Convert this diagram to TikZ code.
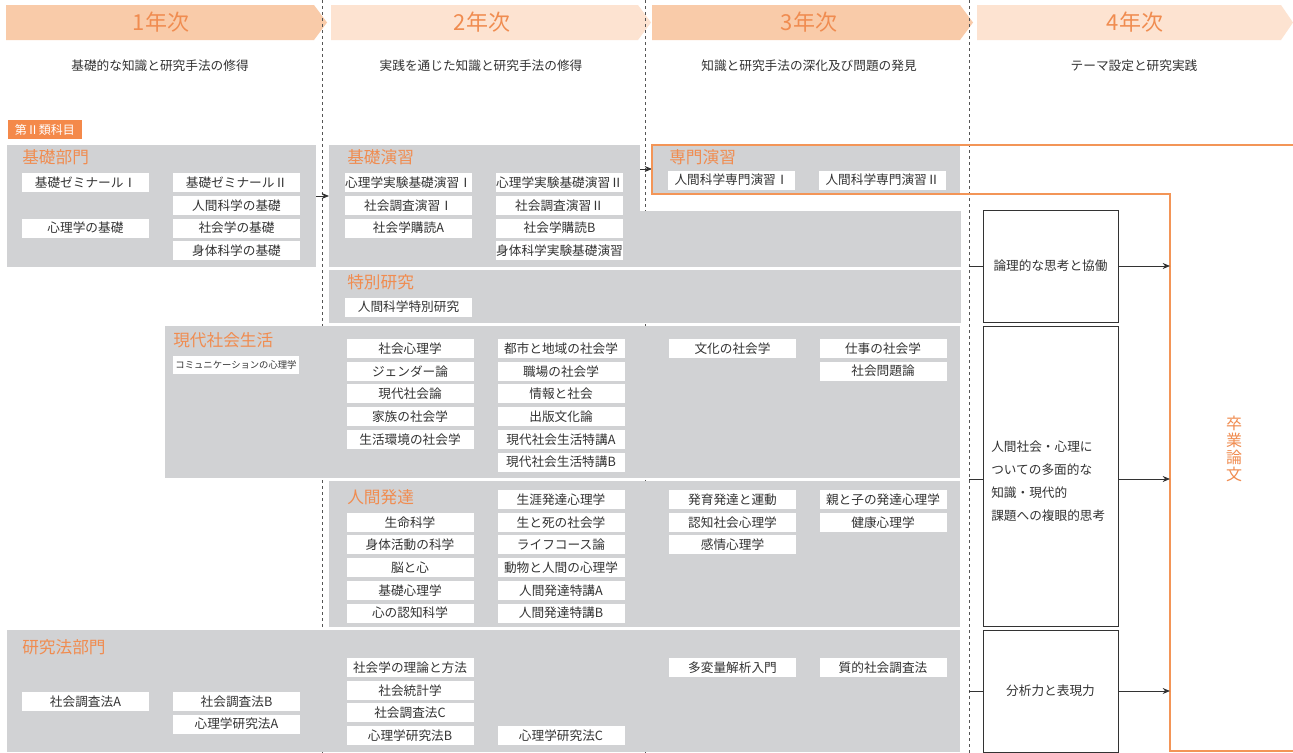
\documentclass[tikz,border=0pt]{standalone}
\usepackage{fontspec}
\setmainfont{Noto Sans CJK JP}
\usetikzlibrary{arrows.meta}
\definecolor{panelgray}{HTML}{D1D2D4}
\definecolor{hdark}{HTML}{F9CBA9}
\definecolor{hlight}{HTML}{FDE3D1}
\definecolor{orng}{HTML}{F08C50}
\definecolor{orline}{HTML}{F39557}
\definecolor{orfill}{HTML}{F4894A}
\definecolor{txt}{HTML}{333333}
\definecolor{dashc}{HTML}{555555}
\newcommand\cbf{\fontsize{9.5}{11}\selectfont}
\newcommand\pnl[5]{\node[panelbox, minimum width={(#4-#2)*0.75pt}, minimum height={(#5-#3)*0.75pt}] (#1) at ({(#2+#4)/2},{(#3+#5)/2}) {};}
\newcommand\chev[5]{\fill[#5] (#1,5) -- (#2,5) -- (#3,22.5) -- (#2,40) -- (#1,40) -- cycle;}
\tikzset{
 panelbox/.style={fill=panelgray, draw=none, inner sep=0pt, outer sep=0pt},
 cbox/.style={fill=white, inner sep=0pt, minimum width=95.25pt, minimum height=14.25pt, text=txt, font=\cbf},
 ttl/.style={anchor=west, inner sep=0pt, text=orng, font=\fontsize{12.5}{14}\selectfont},
 hdr/.style={text=orng, inner sep=0pt, font=\fontsize{16.5}{18}\selectfont},
 subt/.style={text=txt, inner sep=0pt, font=\cbf},
 rbox/.style={draw=txt, line width=0.65pt, fill=white, minimum width=101.25pt, inner sep=0pt, text=txt, font=\cbf},
 arr/.style={draw=txt, line width=0.75pt, -{Stealth[length=5.5pt,width=4.5pt]}},
 ln/.style={draw=txt, line width=0.75pt},
 dsh/.style={draw=dashc, line width=0.5pt, dash pattern=on 2.5pt off 2pt},
}
\begin{document}
\begin{tikzpicture}[x=0.75pt,y=-0.75pt]
\useasboundingbox (0,0) rectangle (1293,753);
\fill[white] (0,0) rectangle (1293,753);
% headers
\chev{6}{314}{327}{}{hdark}
\chev{331}{638}{651}{}{hlight}
\chev{652}{960}{973}{}{hdark}
\chev{977}{1281}{1293}{}{hlight}
\node[hdr] (h1) at (161,22) {1年次};
\node[hdr] (h2) at (482,22) {2年次};
\node[hdr] (h3) at (809,22) {3年次};
\node[hdr] (h4) at (1135,22) {4年次};
\node[subt] (s1) at (160,66) {基礎的な知識と研究手法の修得};
\node[subt] (s2) at (481,66) {実践を通じた知識と研究手法の修得};
\node[subt] (s3) at (809,66) {知識と研究手法の深化及び問題の発見};
\node[subt] (s4) at (1134,66) {テーマ設定と研究実践};
% dashed year separators
\draw[dsh] (322,0) -- (322,753);
\draw[dsh] (645,0) -- (645,753);
\draw[dsh] (969,0) -- (969,753);
% category label
\node[fill=orfill, text=white, inner sep=0pt, minimum width=55.5pt, minimum height=14.25pt, font=\fontsize{9}{10}\selectfont] (cat) at (45,129.5) {第Ⅱ類科目};
% panels
\pnl{pKiso}{7}{145}{316}{267}
\pnl{pEnshu}{329}{145}{640}{267}
\pnl{pEnshuX}{640}{211}{961}{267}
\pnl{pSenmon}{652}{145}{960}{194}
\pnl{pToku}{329}{270}{961}{323}
\pnl{pGendai}{165}{326}{960}{478}
\pnl{pHatta}{329}{481}{960}{627}
\pnl{pKenkyu}{7}{630}{960}{752}
% titles
\node[ttl] (tKiso) at (22,157) {基礎部門};
\node[ttl] (tEnshu) at (347,157) {基礎演習};
\node[ttl] (tSenmon) at (669,157) {専門演習};
\node[ttl] (tToku) at (347,282) {特別研究};
\node[ttl] (tGendai) at (173,340) {現代社会生活};
\node[ttl] (tHatta) at (347,497) {人間発達};
\node[ttl] (tKenkyu) at (22,647) {研究法部門};
% 基礎部門
\node[cbox] (k1) at (85.5,182.5) {基礎ゼミナールⅠ};
\node[cbox] (k2) at (236.5,182.5) {基礎ゼミナールⅡ};
\node[cbox] (k3) at (236.5,205.3) {人間科学の基礎};
\node[cbox] (k4) at (85.5,228) {心理学の基礎};
\node[cbox] (k5) at (236.5,228) {社会学の基礎};
\node[cbox] (k6) at (236.5,250.7) {身体科学の基礎};
% 基礎演習
\node[cbox] (e1) at (408.5,182.5) {心理学実験基礎演習Ⅰ};
\node[cbox] (e2) at (559.5,182.5) {心理学実験基礎演習Ⅱ};
\node[cbox] (e3) at (408.5,205.3) {社会調査演習Ⅰ};
\node[cbox] (e4) at (559.5,205.3) {社会調査演習Ⅱ};
\node[cbox] (e5) at (408.5,228) {社会学購読A};
\node[cbox] (e6) at (559.5,228) {社会学購読B};
\node[cbox] (e7) at (559.5,250.7) {身体科学実験基礎演習};
% 専門演習
\node[cbox] (m1) at (731.5,180) {人間科学専門演習Ⅰ};
\node[cbox] (m2) at (882.5,180) {人間科学専門演習Ⅱ};
% 特別研究
\node[cbox] (t1) at (408.5,307) {人間科学特別研究};
% 現代社会生活
\node[cbox, minimum width=94.5pt, minimum height=13.5pt, font=\fontsize{7}{8}\selectfont] (g0) at (236,365) {コミュニケーションの心理学};
\node[cbox] (g1) at (410,348.5) {社会心理学};
\node[cbox] (g2) at (410,371.2) {ジェンダー論};
\node[cbox] (g3) at (410,393.9) {現代社会論};
\node[cbox] (g4) at (410,416.6) {家族の社会学};
\node[cbox] (g5) at (410,439.3) {生活環境の社会学};
\node[cbox] (g6) at (561,348.5) {都市と地域の社会学};
\node[cbox] (g7) at (561,371.2) {職場の社会学};
\node[cbox] (g8) at (561,393.9) {情報と社会};
\node[cbox] (g9) at (561,416.6) {出版文化論};
\node[cbox] (g10) at (561,439.3) {現代社会生活特講A};
\node[cbox] (g11) at (561,462) {現代社会生活特講B};
\node[cbox] (g12) at (732.5,348.5) {文化の社会学};
\node[cbox] (g13) at (883,348.5) {仕事の社会学};
\node[cbox] (g14) at (883,371.2) {社会問題論};
% 人間発達
\node[cbox] (n1) at (410,522.2) {生命科学};
\node[cbox] (n2) at (410,544.9) {身体活動の科学};
\node[cbox] (n3) at (410,567.6) {脳と心};
\node[cbox] (n4) at (410,590.3) {基礎心理学};
\node[cbox] (n5) at (410,613) {心の認知科学};
\node[cbox] (n6) at (561,499.5) {生涯発達心理学};
\node[cbox] (n7) at (561,522.2) {生と死の社会学};
\node[cbox] (n8) at (561,544.9) {ライフコース論};
\node[cbox] (n9) at (561,567.6) {動物と人間の心理学};
\node[cbox] (n10) at (561,590.3) {人間発達特講A};
\node[cbox] (n11) at (561,613) {人間発達特講B};
\node[cbox] (n12) at (732.5,499.5) {発育発達と運動};
\node[cbox] (n13) at (732.5,522.2) {認知社会心理学};
\node[cbox] (n14) at (732.5,544.9) {感情心理学};
\node[cbox] (n15) at (883,499.5) {親と子の発達心理学};
\node[cbox] (n16) at (883,522.2) {健康心理学};
% 研究法部門
\node[cbox] (r1) at (85.5,701.5) {社会調査法A};
\node[cbox] (r2) at (236.5,701.5) {社会調査法B};
\node[cbox] (r3) at (236.5,724) {心理学研究法A};
\node[cbox] (r4) at (410,667.5) {社会学の理論と方法};
\node[cbox] (r5) at (410,690.2) {社会統計学};
\node[cbox] (r6) at (410,712.9) {社会調査法C};
\node[cbox] (r7) at (410,735.6) {心理学研究法B};
\node[cbox] (r8) at (561,735.6) {心理学研究法C};
\node[cbox] (r9) at (732.5,667.5) {多変量解析入門};
\node[cbox] (r10) at (883,667.5) {質的社会調査法};
% arrows between panels
\draw[arr] ([yshift=7.5pt]pKiso.east) -- ([yshift=7.5pt]pKiso.east -| pEnshu.west);
\draw[arr] ([yshift=27.75pt]pEnshu.east) -- ([yshift=27.75pt]pEnshu.east -| pSenmon.west);
% graduation thesis outline
\draw[orline, line width=1.1pt] (1293,145) -- (652,145) -- (652,194) -- (1170,194) -- (1170,751) -- (1293,751);
\node[text=orng, align=center, inner sep=0pt, font=\fontsize{12}{12.75}\selectfont] (sotsu) at (1234,449) {卒\\業\\論\\文};
% outcome boxes
\node[rbox, minimum height=84pt] (b1) at (1050.5,266) {論理的な思考と協働};
\node[rbox, minimum height=225pt] (b2) at (1050.5,476) {};
\node[text=txt, align=left, inner sep=0pt, anchor=west, font=\fontsize{9.5}{17.25}\selectfont] (b2t) at (991,481) {人間社会・心理に\\ついての多面的な\\知識・現代的\\課題への複眼的思考};
\node[rbox, minimum height=91.5pt] (b3) at (1050.5,691) {分析力と表現力};
\coordinate (d1) at (969,266);
\coordinate (d2) at (969,479);
\coordinate (d3) at (969,691);
\coordinate (e1) at (1170,266);
\coordinate (e2) at (1170,479);
\coordinate (e3) at (1170,691);
\draw[ln] (d1) -- (b1);
\draw[ln] (d2) -- (d2 -| b2.west);
\draw[ln] (d3) -- (b3);
\draw[arr] (b1) -- (e1);
\draw[arr] (e2 -| b2.east) -- (e2);
\draw[arr] (b3) -- (e3);
\end{tikzpicture}
\end{document}
